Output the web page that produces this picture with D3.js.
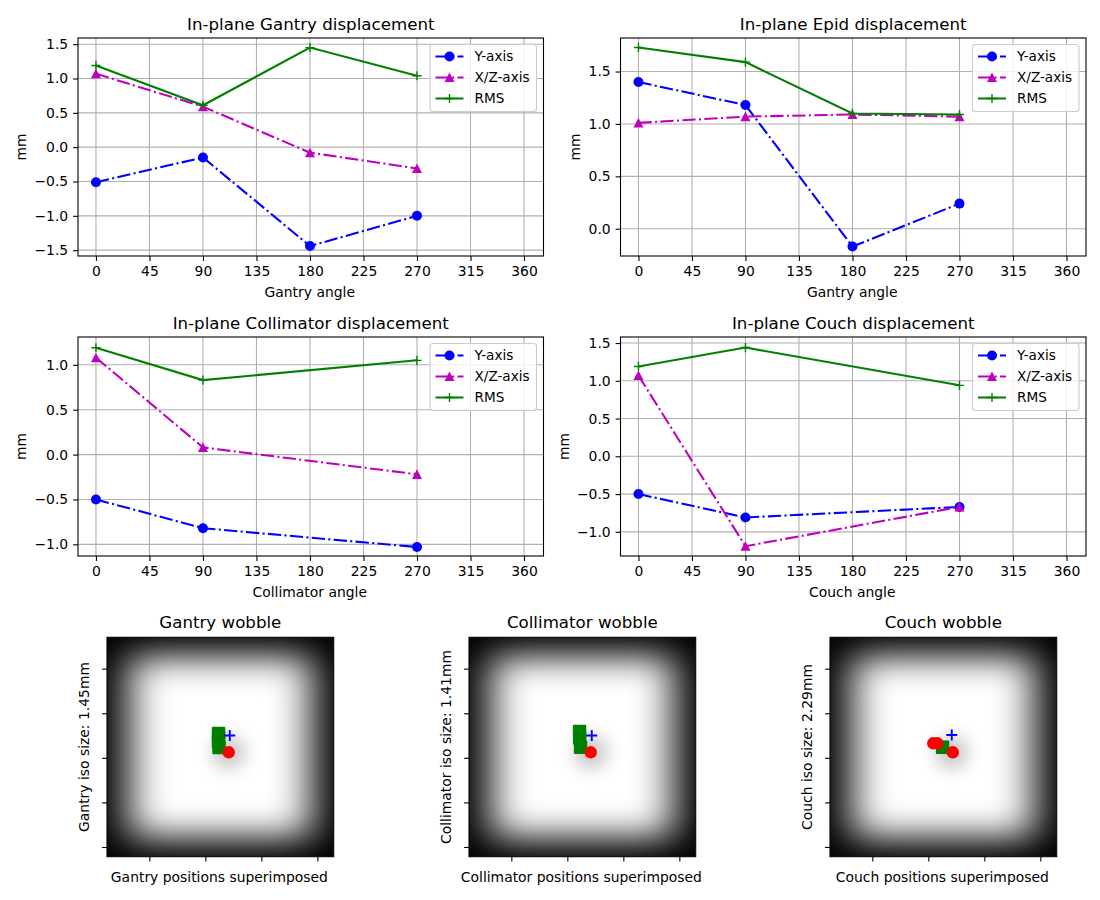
<!DOCTYPE html>
<meta charset="utf-8">
<style>
body { margin: 0; background: #fff; }
text { font-family: "DejaVu Sans", sans-serif; fill: #000; }
</style>
<body>
<script src="https://d3js.org/d3.v7.min.js"></script>
<script>

// line panels
var angles4 = [0, 90, 180, 270];
var angles3 = [0, 90, 270];
var angleTicks = [0, 45, 90, 135, 180, 225, 270, 315, 360];

var gantryY = [-0.51, -0.15, -1.44, -1.00];
var gantryXZ = [1.07, 0.59, -0.08, -0.31];
var gantryRMS = [1.19, 0.61, 1.45, 1.04];

var epidY = [1.40, 1.18, -0.17, 0.24];
var epidXZ = [1.01, 1.07, 1.09, 1.07];
var epidRMS = [1.73, 1.59, 1.10, 1.09];

var collY = [-0.50, -0.82, -1.03];
var collXZ = [1.08, 0.08, -0.22];
var collRMS = [1.19, 0.83, 1.05];

var couchY = [-0.50, -0.81, -0.67];
var couchXZ = [1.07, -1.19, -0.67];
var couchRMS = [1.19, 1.44, 0.94];

var gantryTicks = [-1.5, -1, -0.5, 0, 0.5, 1, 1.5];
var epidTicks = [0, 0.5, 1, 1.5];
var collTicks = [-1, -0.5, 0, 0.5, 1];
var couchTicks = [-1, -0.5, 0, 0.5, 1, 1.5];

// wobble panels, in image pixels
var imgXTicks = [50, 100, 150, 200];
var imgYTicks = [50, 100, 150, 200, 250];
var refPoint = [120.9, 143.8];
var gantryField = [[111.8, 122.7], [111.8, 127.8], [111.8, 132.2], [112.2, 138.4]];
var gantryBB = [[120.9, 143.8]];
var gantryEpid = [[121.8, 125]];
var collField = [[110.9, 120.5], [111, 127.8], [111.8, 138.1]];
var collBB = [[120.9, 143.8]];
var collEpid = [[121.8, 125]];
var couchField = [[112.7, 138.2]];
var couchBB = [[104.4, 133.7], [108, 133.7], [121.8, 143.8]];
var couchEpid = [[120.9, 124.4]];

var width = 1100, height = 900;
var blue = "#0000ff", magenta = "#bf00bf", green = "#008000";
var dashDot = "13.3,3.3,2.1,3.3";

var svg = d3.select("body").append("svg")
  .attr("width", width)
  .attr("height", height)
  .style("display", "block");

var defs = svg.append("defs");

function styleAxis(g) {
  g.selectAll(".tick text").attr("font-size", 13.9).attr("font-family", "DejaVu Sans").attr("fill", "#000");
  g.selectAll(".tick line").attr("stroke", "#000").attr("stroke-width", 1.1);
  g.select(".domain").remove();
}

function marker(sel, kind, color) {
  if (kind == "circle") {
    sel.append("circle").attr("r", 5).attr("fill", color);
  } else if (kind == "triangle") {
    sel.append("path").attr("d", "M0,-5L5,4.6L-5,4.6Z").attr("fill", color);
  } else {
    sel.append("path").attr("d", "M-4.6,0H4.6M0,-4.6V4.6").attr("stroke", color).attr("stroke-width", 1.4).attr("fill", "none");
  }
}

function linePanel(o) {
  var g = svg.append("g");
  var x = d3.scaleLinear().domain(o.xlim).range([o.left, o.right]);
  var y = d3.scaleLinear().domain(o.ylim).range([o.bottom, o.top]);

  // grid
  g.append("g").selectAll("line").data(angleTicks).enter().append("line")
    .attr("x1", function(d) { return x(d); })
    .attr("x2", function(d) { return x(d); })
    .attr("y1", o.top).attr("y2", o.bottom)
    .attr("stroke", "#b0b0b0").attr("stroke-width", 1.1);
  g.append("g").selectAll("line").data(o.yTicks).enter().append("line")
    .attr("y1", function(d) { return y(d); })
    .attr("y2", function(d) { return y(d); })
    .attr("x1", o.left).attr("x2", o.right)
    .attr("stroke", "#b0b0b0").attr("stroke-width", 1.1);

  var line = d3.line()
    .x(function(d, i) { return x(o.angles[i]); })
    .y(function(d) { return y(d); });

  var series = [
    {name: "Y-axis", values: o.yAxis, color: blue, dash: dashDot, kind: "circle"},
    {name: "X/Z-axis", values: o.xz, color: magenta, dash: dashDot, kind: "triangle"},
    {name: "RMS", values: o.rms, color: green, dash: null, kind: "plus"}
  ];

  series.forEach(function(s) {
    g.append("path")
      .attr("d", line(s.values))
      .attr("fill", "none")
      .attr("stroke", s.color)
      .attr("stroke-width", 2.08)
      .attr("stroke-dasharray", s.dash);
    s.values.forEach(function(v, i) {
      var m = g.append("g").attr("transform", "translate(" + x(o.angles[i]) + "," + y(v) + ")");
      marker(m, s.kind, s.color);
    });
  });

  // frame
  g.append("rect")
    .attr("x", o.left).attr("y", o.top)
    .attr("width", o.right - o.left).attr("height", o.bottom - o.top)
    .attr("fill", "none").attr("stroke", "#000").attr("stroke-width", 1.1);

  g.append("g")
    .attr("transform", "translate(0," + o.bottom + ")")
    .call(d3.axisBottom(x).tickValues(angleTicks).tickFormat(d3.format("d")).tickSize(4.9).tickPadding(4.9))
    .call(styleAxis);
  g.append("g")
    .attr("transform", "translate(" + o.left + ",0)")
    .call(d3.axisLeft(y).tickValues(o.yTicks).tickFormat(d3.format(".1f")).tickSize(4.9).tickPadding(4.9))
    .call(styleAxis);

  g.append("text")
    .attr("x", (o.left + o.right) / 2).attr("y", o.top - 8.5)
    .attr("text-anchor", "middle").attr("font-size", 16.67)
    .text(o.title);
  g.append("text")
    .attr("x", (o.left + o.right) / 2 - 1).attr("y", o.bottom + 41)
    .attr("text-anchor", "middle").attr("font-size", 13.9)
    .text(o.xLabel);
  g.append("text")
    .attr("transform", "translate(" + o.mmX + "," + ((o.top + o.bottom) / 2) + ") rotate(-90)")
    .attr("text-anchor", "middle").attr("font-size", 13.9)
    .text("mm");

  // legend
  var lx = o.right - 114, ly = o.top + 6;
  var leg = g.append("g").attr("transform", "translate(" + lx + "," + ly + ")");
  leg.append("rect")
    .attr("x", 0.5).attr("y", 0.5).attr("width", 106.5).attr("height", 67).attr("rx", 3)
    .attr("fill", "#fff").attr("fill-opacity", 0.8)
    .attr("stroke", "#ccc").attr("stroke-width", 1.1);
  series.forEach(function(s, i) {
    var row = leg.append("g").attr("transform", "translate(0," + (12.5 + i * 21) + ")");
    row.append("line")
      .attr("x1", 6).attr("x2", 34)
      .attr("stroke", s.color).attr("stroke-width", 2.08)
      .attr("stroke-dasharray", s.dash ? "13.3,3.3,2.1,3.3" : null);
    marker(row.append("g").attr("transform", "translate(20,0)"), s.kind, s.color);
    row.append("text").attr("x", 45).attr("y", 4.5).attr("font-size", 13.6).text(s.name);
  });
}

linePanel({title: "In-plane Gantry displacement", xLabel: "Gantry angle", mmX: 26,
  left: 78, right: 543.5, top: 38, bottom: 256, xlim: [-15.1, 376.4], ylim: [-1.585, 1.59],
  yTicks: gantryTicks, angles: angles4, yAxis: gantryY, xz: gantryXZ, rms: gantryRMS});
linePanel({title: "In-plane Epid displacement", xLabel: "Gantry angle", mmX: 580,
  left: 620.5, right: 1086, top: 38, bottom: 256, xlim: [-15.1, 376.4], ylim: [-0.26, 1.82],
  yTicks: epidTicks, angles: angles4, yAxis: epidY, xz: epidXZ, rms: epidRMS});
linePanel({title: "In-plane Collimator displacement", xLabel: "Collimator angle", mmX: 26,
  left: 78, right: 543.5, top: 337, bottom: 556, xlim: [-15.1, 376.4], ylim: [-1.13, 1.31],
  yTicks: collTicks, angles: angles3, yAxis: collY, xz: collXZ, rms: collRMS});
linePanel({title: "In-plane Couch displacement", xLabel: "Couch angle", mmX: 569,
  left: 620.5, right: 1086, top: 337, bottom: 556, xlim: [-15.1, 376.4], ylim: [-1.32, 1.58],
  yTicks: couchTicks, angles: angles3, yAxis: couchY, xz: couchXZ, rms: couchRMS});

function wobblePanel(o, idx) {
  var top = 637.3, bottom = 856.7, left = o.left, right = o.left + 226.7;
  var x = d3.scaleLinear().domain([12.2, 214.6]).range([left, right]);
  var y = d3.scaleLinear().domain([14.8, 260.9]).range([top, bottom]);
  var g = svg.append("g");

  var blurId = "soft" + idx, spotId = "spot" + idx, clipId = "clip" + idx;
  defs.append("filter").attr("id", blurId)
    .attr("filterUnits", "userSpaceOnUse")
    .attr("x", left - 80).attr("y", top - 80).attr("width", 390).attr("height", 380)
    .append("feGaussianBlur").attr("stdDeviation", "20 17");
  defs.append("filter").attr("id", spotId)
    .attr("filterUnits", "userSpaceOnUse")
    .attr("x", left).attr("y", top).attr("width", 230).attr("height", 220)
    .append("feGaussianBlur").attr("stdDeviation", "9");
  defs.append("clipPath").attr("id", clipId).append("rect")
    .attr("x", left).attr("y", top).attr("width", right - left).attr("height", bottom - top);

  var im = g.append("g").attr("clip-path", "url(#" + clipId + ")");
  im.append("rect")
    .attr("x", left).attr("y", top).attr("width", right - left).attr("height", bottom - top)
    .attr("fill", "#000");
  im.append("rect")
    .attr("x", left + 22).attr("y", top + 19).attr("width", right - left - 44).attr("height", bottom - top - 38)
    .attr("fill", "#fff").attr("filter", "url(#" + blurId + ")");
  im.append("circle")
    .attr("cx", x(refPoint[0])).attr("cy", y(refPoint[1])).attr("r", 16)
    .attr("fill", "#000").attr("fill-opacity", 0.24).attr("filter", "url(#" + spotId + ")");

  // image frame
  g.append("rect")
    .attr("x", left).attr("y", top).attr("width", right - left).attr("height", bottom - top)
    .attr("fill", "none").attr("stroke", "#000").attr("stroke-width", 1.1);

  g.selectAll(".field").data(o.field).enter().append("rect")
    .attr("x", function(d) { return x(d[0]) - 6.7; })
    .attr("y", function(d) { return y(d[1]) - 6.7; })
    .attr("width", 13.4).attr("height", 13.4).attr("rx", 1)
    .attr("fill", green);
  g.selectAll(".bb").data(o.bb).enter().append("circle")
    .attr("cx", function(d) { return x(d[0]); })
    .attr("cy", function(d) { return y(d[1]); })
    .attr("r", 6.2).attr("fill", "#ff0000");
  g.selectAll(".epid").data(o.epid).enter().append("path")
    .attr("transform", function(d) { return "translate(" + x(d[0]) + "," + y(d[1]) + ")"; })
    .attr("d", "M-5.5,0H5.5M0,-5.5V5.5")
    .attr("stroke", blue).attr("stroke-width", 1.9).attr("fill", "none");

  g.append("g")
    .attr("transform", "translate(0," + bottom + ")")
    .call(d3.axisBottom(x).tickValues(imgXTicks).tickFormat("").tickSize(4.9))
    .call(styleAxis);
  g.append("g")
    .attr("transform", "translate(" + left + ",0)")
    .call(d3.axisLeft(y).tickValues(imgYTicks).tickFormat("").tickSize(4.9))
    .call(styleAxis);

  var cx = (left + right) / 2;
  g.append("text").attr("x", cx).attr("y", top - 9)
    .attr("text-anchor", "middle").attr("font-size", 16.67).text(o.title);
  g.append("text").attr("x", cx - 1).attr("y", bottom + 25)
    .attr("text-anchor", "middle").attr("font-size", 13.9).text(o.xLabel);
  g.append("text")
    .attr("transform", "translate(" + (left - 18) + "," + ((top + bottom) / 2) + ") rotate(-90)")
    .attr("text-anchor", "middle").attr("font-size", 13.9).text(o.yLabel);
}

wobblePanel({left: 107, title: "Gantry wobble", xLabel: "Gantry positions superimposed",
  yLabel: "Gantry iso size: 1.45mm", field: gantryField, bb: gantryBB, epid: gantryEpid}, 0);
wobblePanel({left: 469, title: "Collimator wobble", xLabel: "Collimator positions superimposed",
  yLabel: "Collimator iso size: 1.41mm", field: collField, bb: collBB, epid: collEpid}, 1);
wobblePanel({left: 830, title: "Couch wobble", xLabel: "Couch positions superimposed",
  yLabel: "Couch iso size: 2.29mm", field: couchField, bb: couchBB, epid: couchEpid}, 2);

</script>
</body>
